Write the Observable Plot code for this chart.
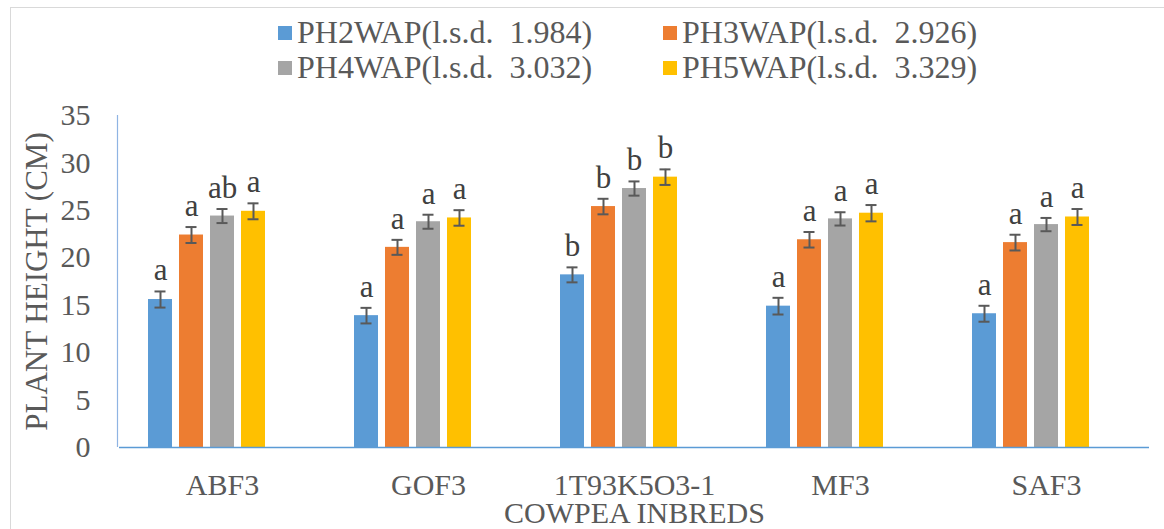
<!DOCTYPE html>
<html>
<head>
<meta charset="utf-8">
<script src="https://cdn.jsdelivr.net/npm/d3@7"></script>
<script src="https://cdn.jsdelivr.net/npm/@observablehq/plot@0.6"></script>
<style>
  html, body { margin: 0; padding: 0; background: #fff; overflow: hidden; }
  body { width: 1164px; height: 529px; position: relative; font-family: "Liberation Serif", "Times New Roman", serif; color: #595959; }
  #frame { position: absolute; left: 10px; top: 7px; width: 1200px; height: 600px; border: 1px solid #d9d9d9; box-sizing: border-box; }
  #legend { position: absolute; left: 278px; top: 15px; display: grid; grid-template-columns: 385px 320px; grid-auto-rows: 35px; font-size: 32px; white-space: pre; font-family: "Liberation Serif", serif; }
  .item { display: flex; align-items: center; }
  .sw { width: 14px; height: 14px; margin-right: 5px; flex: none; }
  #chart { position: absolute; left: 0; top: 100px; }
</style>
</head>
<body>
<div id="frame"></div>
<div id="legend"></div>
<div id="chart"></div>
<script>
const categories = ["ABF3", "GOF3", "1T93K5O3-1", "MF3", "SAF3"];
const series = ["PH2WAP", "PH3WAP", "PH4WAP", "PH5WAP"];
const lsd = ["1.984", "2.926", "3.032", "3.329"];
const colors = ["#5B9BD5", "#ED7D31", "#A5A5A5", "#FFC000"];

const ph2 = [15.6, 13.9, 18.2, 14.9, 14.1];
const ph3 = [22.4, 21.1, 25.4, 21.9, 21.6];
const ph4 = [24.4, 23.8, 27.3, 24.1, 23.5];
const ph5 = [24.9, 24.2, 28.5, 24.7, 24.3];

const err2 = [0.85, 0.82, 0.79, 0.88, 0.84];
const err3 = [0.84, 0.79, 0.82, 0.82, 0.83];
const err4 = [0.74, 0.74, 0.75, 0.70, 0.70];
const err5 = [0.84, 0.82, 0.82, 0.86, 0.84];

const let2 = ["a", "a", "b", "a", "a"];
const let3 = ["a", "a", "b", "a", "a"];
const let4 = ["ab", "a", "b", "a", "a"];
const let5 = ["a", "a", "b", "a", "a"];

const yTicks = [0, 5, 10, 15, 20, 25, 30, 35];

const values = [ph2, ph3, ph4, ph5];
const errors = [err2, err3, err4, err5];
const letters = [let2, let3, let4, let5];

const rows = [];
categories.forEach((c, i) => series.forEach((s, j) => rows.push({
  cat: c, series: s, value: values[j][i], err: errors[j][i], letter: letters[j][i]
})));

// legend
const legend = document.getElementById("legend");
[0, 1, 2, 3].forEach(j => {
  const it = document.createElement("div");
  it.className = "item";
  const sw = document.createElement("span");
  sw.className = "sw";
  sw.style.background = colors[j];
  const tx = document.createElement("span");
  tx.textContent = `${series[j]}(l.s.d.  ${lsd[j]})`;
  it.appendChild(sw); it.appendChild(tx);
  legend.appendChild(it);
});

const ink = "#595959";
const serif = "Liberation Serif, Times New Roman, serif";
const chart = Plot.plot({
  width: 1164,
  height: 429,
  marginLeft: 117,
  marginRight: 13,
  marginTop: 15,
  marginBottom: 82,
  style: {fontFamily: serif, fontSize: "30px", color: ink, background: "transparent", overflow: "visible"},
  fx: {domain: categories, padding: 0},
  x: {domain: [...series, " "], paddingInner: 0.21, paddingOuter: 0.87, axis: null},
  y: {domain: [0, 35]},
  color: {domain: series, range: colors},
  marks: [
    Plot.barY(rows, {fx: "cat", x: "series", y: "value", fill: "series"}),
    Plot.ruleX(rows, {fx: "cat", x: "series", y1: d => d.value - d.err, y2: d => d.value + d.err, stroke: ink, strokeWidth: 2}),
    Plot.tickY(rows, {fx: "cat", x: "series", y: d => d.value - d.err, stroke: ink, strokeWidth: 2, insetLeft: 6.5, insetRight: 6.5}),
    Plot.tickY(rows, {fx: "cat", x: "series", y: d => d.value + d.err, stroke: ink, strokeWidth: 2, insetLeft: 6.5, insetRight: 6.5}),
    Plot.text(rows, {fx: "cat", x: "series", y: d => d.value + d.err, text: "letter", dy: -11, lineAnchor: "bottom", fill: "#404040", fontSize: 31, fontFamily: serif}),
    Plot.ruleY([0], {stroke: "#5B9BD5", strokeWidth: 1.5}),
    Plot.axisY({ticks: yTicks, tickSize: 0, tickPadding: 29, tickFormat: d => String(d), label: null, fontSize: 30, fontFamily: serif, fill: ink}),
    Plot.axisY({ticks: [], tickSize: 0, label: "PLANT HEIGHT (CM)", labelAnchor: "center", labelOffset: 95, labelArrow: "none", fontSize: 31, fontFamily: serif, fill: ink}),
    Plot.axisFx({anchor: "bottom", tickSize: 0, tickPadding: 26, label: "COWPEA INBREDS", labelAnchor: "center", labelOffset: 75, labelArrow: "none", fontSize: 30, fontFamily: serif, fill: ink})
  ]
});

// vertical value axis line along the left edge of the plot area
const ys = chart.scale("y");
d3.select(chart).append("line")
  .attr("x1", 117.5).attr("x2", 117.5)
  .attr("y1", ys.apply(35)).attr("y2", ys.apply(0))
  .attr("stroke", "#8FB4E3").attr("stroke-width", 1.2);

document.getElementById("chart").appendChild(chart);
</script>
</body>
</html>
